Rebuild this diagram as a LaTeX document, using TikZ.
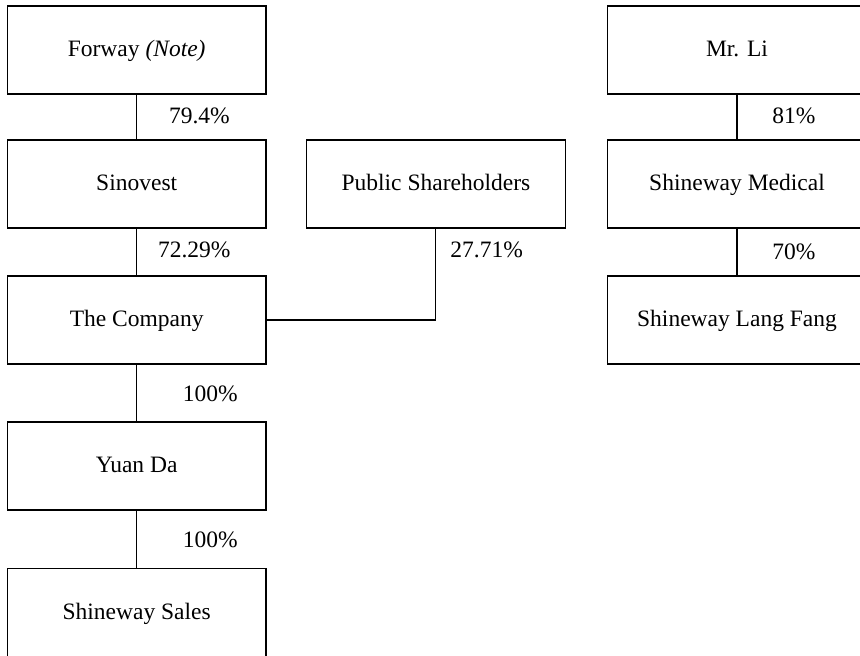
\documentclass[tikz,border=0pt]{standalone}
\usepackage{fontspec}
\setmainfont{Liberation Serif}
\usetikzlibrary{positioning}

\begin{document}
\begin{tikzpicture}[
	-,
	node distance=23pt,
	line width=0.55pt,
	font=\fontsize{11.75}{14}\selectfont,
	box node/.style={rectangle,draw,minimum width=129.3pt,minimum height=44pt,inner sep=0pt,outer sep=0pt,text height=0.88em,text depth=0.22em},
	pct/.style={inner sep=0pt,anchor=west}
]
\useasboundingbox (0,0) rectangle (430pt,-327.5pt);
\clip (0,0) rectangle (430pt,-327.5pt);

\node[box node] (forway) at (68.35pt,-25pt) {Forway \textit{(Note)}};
\node[box node] (sinovest) [below=of forway] {Sinovest};
\node[box node] (company) [below=24pt of sinovest] {The Company};
\node[box node] (yuanda) [below=29pt of company] {Yuan Da};
\node[box node] (sales) [below=29.3pt of yuanda] {Shineway Sales};
\node[box node] (public) [right=20.3pt of sinovest] {Public Shareholders};
\node[box node] (mrli) at (368.5pt,-25pt) {Mr. Li};
\node[box node] (medical) [below=of mrli] {Shineway Medical};
\node[box node] (langfang) [below=24pt of medical] {Shineway Lang Fang};
%\node[box node] (other) [right=of langfang] {};

\path
(forway) edge node[pct,xshift=15.9pt,yshift=0.7pt] {79.4\%} (sinovest)
(sinovest) edge node[pct,xshift=10.4pt,yshift=1pt] {72.29\%} (company)
(company) edge node[pct,xshift=22.75pt,yshift=-0.4pt] {100\%} (yuanda)
(yuanda) edge node[pct,xshift=22.75pt,yshift=-0.4pt] {100\%} (sales)
(mrli) edge node[pct,xshift=17.35pt,yshift=0.7pt] {81\%} (medical)
(medical) edge node[pct,xshift=17.35pt] {70\%} (langfang)
;
\draw (public.south) |- node[pct,pos=0.12,xshift=7pt] {27.71\%} (company.east);
\end{tikzpicture}
\end{document}
